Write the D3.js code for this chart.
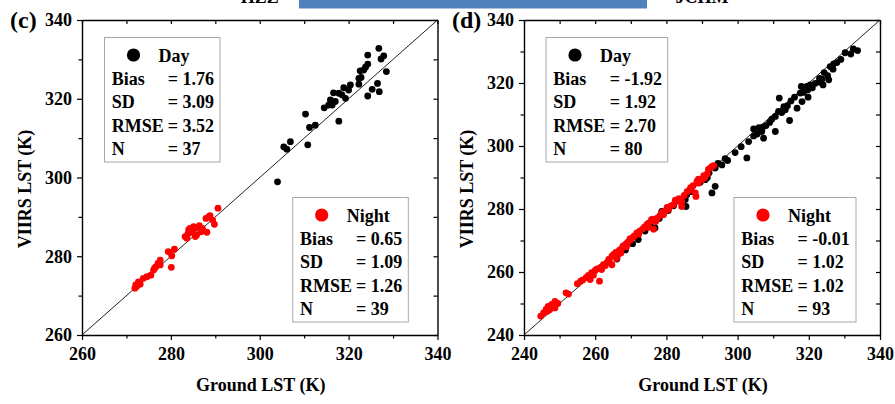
<!DOCTYPE html>
<html>
<head>
<meta charset="utf-8">
<script src="https://cdn.jsdelivr.net/npm/d3@7"></script>
<style>
  html, body { margin: 0; padding: 0; background: #fff; }
  svg { display: block; }
  text { font-family: "Liberation Serif", "Times New Roman", serif; font-weight: bold; fill: #000; }
</style>
</head>
<body>
<svg id="chart" width="895" height="404"></svg>
<script>
// Site (c): ground LST vs VIIRS LST, daytime and night-time matchups
const cDayGround = [326.8,324.3,327.9,327.3,324.3,323.8,322.6,328.5,322.8,322.3,320.4,318.9,316.6,317.8,319.3,315.9,317.0,316.3,314.5,326.5,325.3,326.9,324.3,317.8,310.3,311.2,312.5,310.8,305.4,306.9,306.1,304.0,323.4,318.5,320.0,315.5,322.3];
const cDayViirs  = [332.8,331.1,330.9,330.1,328.8,328.0,327.1,326.9,325.4,323.7,323.5,322.8,321.5,321.4,320.1,319.7,319.3,318.4,317.7,323.9,322.4,321.8,320.7,314.3,316.1,312.7,313.3,308.3,307.8,309.1,307.2,298.9,327.3,321.0,322.2,318.4,325.2];
const cNightGround = [290.6,288.8,287.9,289.4,289.8,288.1,286.4,285.6,284.3,284.7,283.8,285.5,283.6,286.8,280.8,279.8,280.2,280.1,277.6,277.1,276.6,276.1,275.5,273.8,272.7,272.1,271.9,273.1,274.6,277.6,284.0,285.1,285.8,288.5,283.2,276.3,287.1,279.4,272.3];
const cNightViirs  = [292.2,290.3,289.6,289.2,288.1,286.1,287.8,287.1,287.1,286.1,285.6,285.0,284.6,286.2,281.8,281.0,280.1,277.2,279.0,278.2,277.3,276.5,275.2,274.4,273.5,272.7,271.9,272.9,274.8,277.8,286.7,287.5,285.4,290.0,285.0,276.9,287.1,281.2,272.3];

// Site (d)
const dDayGround = [333.7,331.8,330.2,327.9,327.0,326.8,324.3,325.3,323.7,325.6,324.0,321.8,320.4,319.5,317.9,319.7,317.6,319.8,315.0,318.1,311.7,313.4,312.4,316.7,310.6,309.6,309.0,314.6,310.6,307.1,304.5,306.8,304.5,307.3,303.1,299.3,302.6,297.2,295.6,293.7,290.9,293.7,292.8,285.7,285.3,285.5,278.7,276.8,271.7,266.1,272.1,322.9,326.0,329.0,321.0,316.0,313.0,311.5,308.0,306.0,305.5,301.0,296.5,294.5,291.5,289.5,287.0,284.5,282.0,280.5,278.0,275.5,274.0,270.5,268.5,332.5,323.0,318.5,314.0,292.0];
const dDayViirs  = [330.3,329.2,329.6,326.5,326.1,324.4,323.3,322.3,321.2,321.0,319.4,319.9,319.4,318.9,318.9,317.8,316.8,315.5,314.3,314.1,315.2,311.5,310.6,312.0,309.4,308.5,307.5,308.1,304.6,306.0,305.4,304.6,303.2,302.5,301.4,297.9,296.2,295.4,294.0,293.0,289.3,287.2,285.1,284.5,283.0,280.8,279.2,274.0,271.3,264.1,270.3,320.3,325.2,327.5,318.5,315.5,312.5,311.0,306.5,305.8,303.8,299.8,296.0,294.5,290.0,288.5,285.5,282.5,281.0,279.5,277.0,274.5,273.0,269.0,267.0,330.8,321.5,317.0,312.8,291.5];
const dNightGround = [244.7,246.2,246.8,247.8,248.7,248.7,246.5,251.8,255.0,255.9,258.1,258.6,261.2,259.0,260.0,261.5,262.3,263.3,264.7,264.7,265.2,266.0,266.8,267.5,267.2,268.4,269.2,268.8,270.0,270.8,271.7,272.5,273.3,274.5,275.0,276.8,276.4,275.8,277.5,278.2,279.2,279.8,280.6,282.0,282.9,284.3,284.3,283.5,285.0,286.5,288.1,288.3,287.5,289.0,289.0,290.0,290.5,291.5,292.3,292.8,291.8,293.3,245.5,247.2,249.5,252.5,256.5,257.5,259.5,260.5,262.8,263.8,265.8,266.3,269.0,269.8,271.0,272.2,273.8,275.0,276.2,277.0,278.8,280.2,281.3,282.5,285.8,286.8,288.6,290.8,261.8,264.0,267.8];
const dNightViirs  = [246.0,248.1,249.1,249.7,250.7,248.6,247.5,253.4,256.3,257.1,258.9,257.6,257.1,259.8,260.5,261.5,262.3,263.0,262.3,265.0,265.6,264.3,266.9,267.5,266.0,268.7,269.5,268.0,270.2,271.2,272.4,273.0,273.6,275.0,275.5,276.1,273.6,276.6,277.2,277.9,278.2,279.4,279.9,281.4,282.4,282.4,280.8,283.3,284.3,286.0,285.1,284.0,287.4,288.2,289.5,289.3,290.6,291.2,293.0,293.5,292.6,293.8,247.0,248.0,250.0,253.0,257.5,258.3,259.0,261.0,262.0,264.0,266.2,265.2,269.2,270.6,271.5,272.0,274.2,274.2,276.8,276.0,279.0,280.5,281.0,282.8,285.5,286.8,288.8,290.0,260.8,263.2,268.2];

// Statistics shown in the legend boxes
const statNames = ["Bias", "SD", "RMSE", "N"];
const cDayStats = ["1.76", "3.09", "3.52", "37"];
const cNightStats = ["0.65", "1.09", "1.26", "39"];
const dDayStats = ["-1.92", "1.92", "2.70", "80"];
const dNightStats = ["-0.01", "1.02", "1.02", "93"];

// Axis ranges and tick values
const cDomain = [260, 340];
const dDomain = [240, 340];
const cTicks = d3.range(260, 341, 10);
const dTicks = d3.range(240, 341, 10);

const siteNames = ["HZZ", "JCHM"];
const panelTags = ["(c)", "(d)"];

const svg = d3.select("#chart");
const FONT = 18;

// Header strip above the panels
svg.append("rect").attr("x", 299).attr("y", 0).attr("width", 348).attr("height", 8.5).attr("fill", "#4f81bd");

const panels = [
  { tag: panelTags[0], site: siteNames[0], domain: cDomain, ticks: cTicks, xr: [82, 437.5], yr: [335, 20],
    day: [cDayGround, cDayViirs], night: [cNightGround, cNightViirs], dayStats: cDayStats, nightStats: cNightStats,
    dayBox: { x: 104.5, w: 115.5, eq: 56 }, nightBox: { x: 292.7, w: 115.6, eq: 56 } },
  { tag: panelTags[1], site: siteNames[1], domain: dDomain, ticks: dTicks, xr: [524, 880], yr: [335, 20],
    day: [dDayGround, dDayViirs], night: [dNightGround, dNightViirs], dayStats: dDayStats, nightStats: dNightStats,
    dayBox: { x: 546, w: 121.7, eq: 56.5 }, nightBox: { x: 734, w: 122, eq: 56.3 } }
];

panels.forEach(p => {
  const x = d3.scaleLinear().domain(p.domain).range(p.xr);
  const y = d3.scaleLinear().domain(p.domain).range(p.yr);
  const g = svg.append("g");
  const fmt = v => (v % 20 === 0 ? String(v) : "");
  const isMajor = v => v % 20 === 0;

  // Bottom axis (outward ticks, labelled)
  const gb = g.append("g").attr("transform", `translate(0,${p.yr[0]})`)
    .call(d3.axisBottom(x).tickValues(p.ticks).tickFormat(fmt).tickSize(5).tickPadding(7).tickSizeOuter(0));
  gb.selectAll(".tick line").attr("y2", d => isMajor(d) ? 5 : 3.5);
  // Left axis
  const gl = g.append("g").attr("transform", `translate(${p.xr[0]},0)`)
    .call(d3.axisLeft(y).tickValues(p.ticks).tickFormat(fmt).tickSize(5).tickPadding(5).tickSizeOuter(0));
  gl.selectAll(".tick line").attr("x2", d => isMajor(d) ? -5 : -3.5);
  // Top and right axes (inward ticks, no labels)
  g.append("g").attr("transform", `translate(0,${p.yr[1]})`)
    .call(d3.axisTop(x).tickValues(p.ticks).tickFormat("").tickSize(-4).tickSizeOuter(0));
  g.append("g").attr("transform", `translate(${p.xr[1]},0)`)
    .call(d3.axisRight(y).tickValues(p.ticks).tickFormat("").tickSize(-4).tickSizeOuter(0));

  g.selectAll(".domain").attr("stroke", "#000").attr("stroke-width", 1.4);
  g.selectAll(".tick line").attr("stroke", "#000").attr("stroke-width", 1.2);
  g.selectAll(".tick text").style("font-family", '"Liberation Serif", "Times New Roman", serif')
    .style("font-weight", "bold").style("font-size", FONT + "px").attr("fill", "#000");

  // 1:1 line
  g.append("line")
    .attr("x1", x(p.domain[0])).attr("y1", y(p.domain[0]))
    .attr("x2", x(p.domain[1])).attr("y2", y(p.domain[1]))
    .attr("stroke", "#222").attr("stroke-width", 1);

  // Scatter points: day first, night on top
  const dayPts = p.day[0].map((v, i) => [v, p.day[1][i]]);
  const nightPts = p.night[0].map((v, i) => [v, p.night[1][i]]);
  g.append("g").selectAll("circle").data(dayPts).join("circle")
    .attr("cx", d => x(d[0])).attr("cy", d => y(d[1])).attr("r", 3.4).attr("fill", "#000");
  g.append("g").selectAll("circle").data(nightPts).join("circle")
    .attr("cx", d => x(d[0])).attr("cy", d => y(d[1])).attr("r", 3.4).attr("fill", "#ff0000");

  // Legend boxes with statistics
  function legend(box, top, title, color, stats) {
    const lg = g.append("g");
    lg.append("rect").attr("x", box.x).attr("y", top).attr("width", box.w).attr("height", 124.5)
      .attr("fill", "#fff").attr("stroke", "#a8a8a8").attr("stroke-width", 1);
    lg.append("circle").attr("cx", box.x + 29).attr("cy", top + 17.5).attr("r", 6.6).attr("fill", color);
    lg.append("text").attr("x", box.x + 54).attr("y", top + 24).style("font-size", FONT + "px").text(title);
    statNames.forEach((n, i) => {
      const by = top + 47.3 + i * 23.4;
      lg.append("text").attr("x", box.x + 7.3).attr("y", by).style("font-size", FONT + "px").text(n);
      lg.append("text").attr("x", box.x + box.eq + 7.3).attr("y", by).style("font-size", FONT + "px")
        .attr("xml:space", "preserve").text("= " + stats[i]);
    });
  }
  legend(p.dayBox, 37.5, "Day", "#000", p.dayStats);
  legend(p.nightBox, 197.5, "Night", "#ff0000", p.nightStats);

  // Axis titles
  const cx = (p.xr[0] + p.xr[1]) / 2;
  g.append("text").attr("x", cx + 1).attr("y", 391).attr("text-anchor", "middle")
    .style("font-size", FONT + "px").text("Ground LST (K)");
  g.append("text").attr("transform", `translate(${p.xr[0] - 51},189) rotate(-90)`)
    .attr("text-anchor", "middle").style("font-size", FONT + "px").text("VIIRS LST (K)");

  // Panel tag and site name
  g.append("text").attr("x", p.xr[0] - 72).attr("y", 28).style("font-size", "24px").text(p.tag);
  g.append("text").attr("x", cx).attr("y", 3).attr("text-anchor", "middle")
    .style("font-size", FONT + "px").text(p.site);
});
</script>
</body>
</html>
